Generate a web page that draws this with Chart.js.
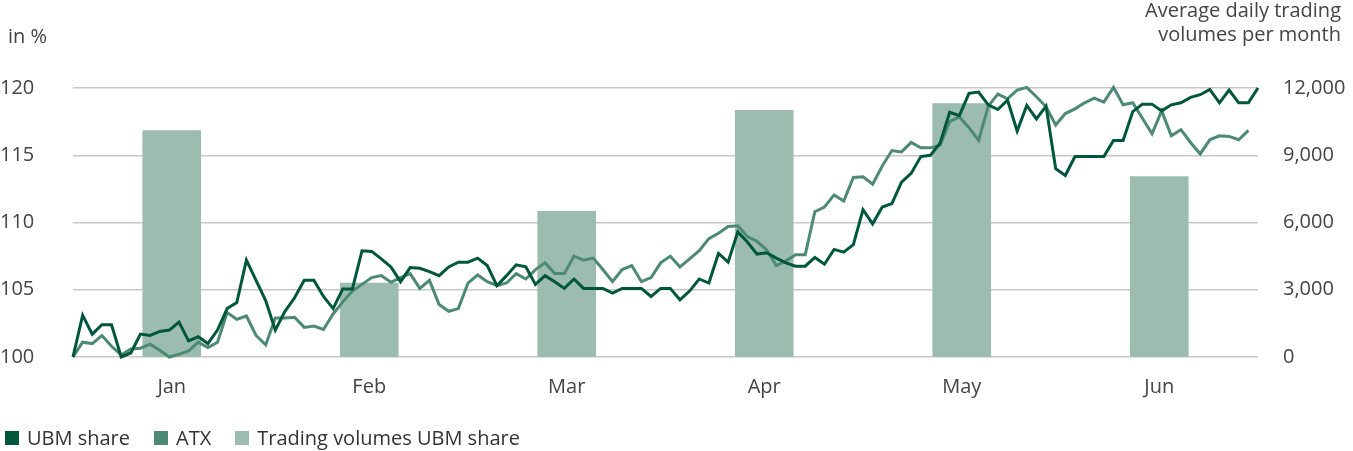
<!DOCTYPE html>
<html>
<head>
<meta charset="utf-8">
<script src="https://cdn.jsdelivr.net/npm/chart.js@4.4.1/dist/chart.umd.min.js"></script>
<style>
  html, body { margin: 0; padding: 0; background: #fff; }
  #wrap { position: relative; width: 1353px; height: 451px; font-family: "Open Sans", sans-serif; color: #444; }
  #wrap canvas { position: absolute; left: 0; top: 0; }
  .unit-left { position: absolute; left: 8px; top: 22px; font-size: 20px; }
  .unit-right { position: absolute; right: 12px; top: -2px; font-size: 20px; line-height: 24px; text-align: right; }
  .legend { position: absolute; left: 5px; top: 424px; display: flex; font-size: 20px; color: #333; }
  .legend span.item { display: flex; align-items: center; margin-right: 24px; }
  .legend i { display: inline-block; width: 14px; height: 14px; margin-right: 8px; }
</style>
</head>
<body>
<div id="wrap">
  <canvas id="ubm-chart" width="1353" height="451"></canvas>
  <div class="unit-left">in %</div>
  <div class="unit-right">Average daily trading<br>volumes per month</div>
  <div class="legend" id="legend"></div>
</div>
<script>
// monthly categories for the volume bars
const MONTHS = ["Jan", "Feb", "Mar", "Apr", "May", "Jun"];

// average daily trading volumes per month (right axis)
const VOLUMES = [10100, 3300, 6500, 11000, 11300, 8050];

// indexed daily closing values, first trading day = 100
const UBM_SHARE = [
  100, 103.1, 101.7, 102.4, 102.4, 100, 100.3, 101.7, 101.6, 101.9,
  102.0, 102.6, 101.2, 101.5, 101.0, 102.0, 103.6, 104.05, 107.2, 105.7,
  104.2, 102.0, 103.4, 104.4, 105.7, 105.7, 104.5, 103.6, 105.05, 105.05,
  107.9, 107.85, 107.3, 106.7, 105.6, 106.65, 106.6, 106.35, 106.05, 106.7,
  107.05, 107.05, 107.35, 106.8, 105.3, 106.05, 106.85, 106.7, 105.4, 106.05,
  105.6, 105.1, 105.8, 105.1, 105.1, 105.1, 104.75, 105.1, 105.1, 105.1,
  104.5, 105.1, 105.1, 104.25, 104.9, 105.8, 105.5, 107.7, 107.05, 109.3,
  108.55, 107.65, 107.75, 107.35, 107.0, 106.75, 106.75, 107.4, 106.9, 108.0,
  107.8, 108.35, 110.95, 109.9, 111.15, 111.4, 113.0, 113.65, 114.9, 115.0,
  115.9, 118.2, 117.95, 119.6, 119.7, 118.75, 118.4, 119.1, 116.8, 118.7,
  117.7, 118.65, 114.0, 113.5, 114.9, 114.9, 114.9, 114.9, 116.1, 116.1,
  118.25, 118.8, 118.8, 118.3, 118.75, 118.9, 119.3, 119.5, 119.9, 118.9,
  119.85, 118.9, 118.9, 120.0
];

const ATX = [
  100, 101.1, 101.0, 101.6, 100.8, 100.15, 100.6, 100.65, 100.95, 100.5,
  100.0, 100.2, 100.45, 101.1, 100.7, 101.1, 103.3, 102.8, 103.05, 101.6,
  100.9, 102.9, 102.9, 102.95, 102.2, 102.3, 102.05, 103.2, 104.1, 104.9,
  105.4, 105.9, 106.05, 105.55, 105.9, 106.2, 105.1, 105.7, 103.9, 103.4,
  103.6, 105.5, 106.1, 105.6, 105.3, 105.5, 106.2, 105.8, 106.5, 107.0,
  106.2, 106.2, 107.5, 107.2, 107.35, 106.5, 105.6, 106.5, 106.8, 105.6,
  105.9, 107.0, 107.5, 106.7, 107.3, 107.9, 108.8, 109.2, 109.7, 109.75,
  108.95, 108.6, 107.95, 106.8, 107.15, 107.6, 107.6, 110.8, 111.15, 112.05,
  111.6, 113.35, 113.4, 112.85, 114.2, 115.35, 115.25, 115.95, 115.55, 115.55,
  115.75, 117.5, 117.85, 117.05, 116.1, 118.65, 119.55, 119.2, 119.85, 120.05,
  119.35, 118.6, 117.25, 118.1, 118.45, 118.9, 119.25, 118.95, 120.05, 118.75,
  118.9, 117.75, 116.6, 118.3, 116.45, 116.9, 115.95, 115.1, 116.15, 116.45,
  116.4, 116.15, 116.85, null
];

// one category per trading day
const DAYS = UBM_SHARE.map(function (_, i) { return String(i + 1); });

const LEFT_TICKS = { min: 100, max: 120, step: 5 };
const RIGHT_TICKS = { min: 0, max: 12000, step: 3000 };

(function () {
  const C_UBM = "#00573c";
  const C_ATX = "#4c8a73";
  const C_VOL = "#9bbcaf";
  const tickFont = { family: "Open Sans", size: 20 };

  // html legend, left aligned like the print version
  const legend = document.getElementById("legend");
  [["UBM share", C_UBM], ["ATX", C_ATX], ["Trading volumes UBM share", C_VOL]].forEach(function (it) {
    const s = document.createElement("span");
    s.className = "item";
    s.innerHTML = '<i style="background:' + it[1] + '"></i>' + it[0];
    legend.appendChild(s);
  });

  new Chart(document.getElementById("ubm-chart"), {
    type: "bar",
    data: {
      labels: DAYS,
      datasets: [
        {
          type: "line",
          label: "UBM share",
          data: UBM_SHARE,
          xAxisID: "x",
          yAxisID: "y",
          borderColor: C_UBM,
          borderWidth: 3,
          pointRadius: 0,
          tension: 0,
          clip: false,
          order: 1,
        },
        {
          type: "line",
          label: "ATX",
          data: ATX,
          xAxisID: "x",
          yAxisID: "y",
          borderColor: C_ATX,
          borderWidth: 3,
          pointRadius: 0,
          tension: 0,
          clip: false,
          order: 2,
        },
        {
          type: "bar",
          label: "Trading volumes UBM share",
          data: VOLUMES,
          xAxisID: "xMonth",
          yAxisID: "yVol",
          backgroundColor: C_VOL,
          barThickness: 58,
          grouped: false,
          order: 3,
        },
      ],
    },
    options: {
      responsive: false,
      animation: false,
      layout: { padding: { top: 88, left: 0, right: 0, bottom: 34 } },
      plugins: { legend: { display: false }, tooltip: { enabled: false } },
      scales: {
        x: {
          type: "category",
          labels: DAYS,
          offset: false,
          display: false,
        },
        xMonth: {
          type: "category",
          labels: MONTHS,
          position: "bottom",
          offset: true,
          grid: { display: false, drawTicks: false },
          border: { display: false },
          ticks: { color: "#444", font: tickFont, padding: 18 },
        },
        y: {
          position: "left",
          min: LEFT_TICKS.min,
          max: LEFT_TICKS.max,
          grid: { color: "#c8c8c8", lineWidth: 1.5, drawTicks: false },
          border: { display: false },
          ticks: {
            stepSize: LEFT_TICKS.step,
            color: "#444",
            font: tickFont,
            crossAlign: "far",
            padding: 10,
          },
          afterFit: function (s) { s.width = 73; },
        },
        yVol: {
          position: "right",
          min: RIGHT_TICKS.min,
          max: RIGHT_TICKS.max,
          grid: { display: false, drawTicks: false },
          border: { display: false },
          ticks: {
            stepSize: RIGHT_TICKS.step,
            color: "#444",
            font: tickFont,
            crossAlign: "near",
            padding: 25,
            callback: function (v) { return v.toLocaleString("en-US"); },
          },
          afterFit: function (s) { s.width = 95; },
        },
      },
    },
  });
})();
</script>
</body>
</html>
